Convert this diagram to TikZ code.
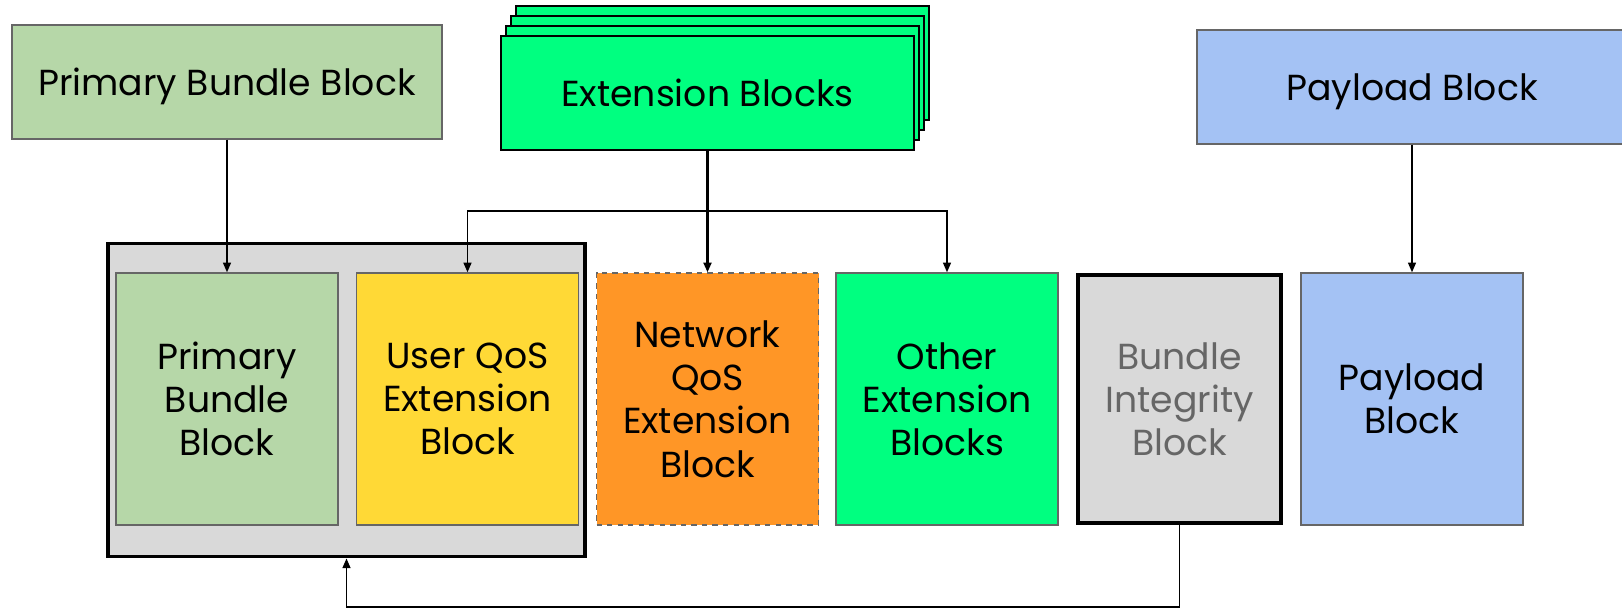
\documentclass[tikz,border=0pt]{standalone}
\usepackage{fontspec}
\setmainfont{Poppins}
\usetikzlibrary{arrows.meta,positioning}
\definecolor{primary}{HTML}{B6D7A8}
\definecolor{userqos}{HTML}{FFD936}
\definecolor{netqos}{HTML}{FF9626}
\definecolor{extgreen}{HTML}{00FF80}
\definecolor{integrity}{HTML}{D9D9D9}
\definecolor{payload}{HTML}{A4C2F4}
\definecolor{edge}{HTML}{666666}

\begin{document}
\begin{tikzpicture}[
  blk/.style={draw=edge, line width=0.8pt, minimum width=4.44cm, minimum height=5.04cm, align=center, font=\fontsize{20.6}{24.6}\selectfont},
  header/.style={draw=edge, line width=0.8pt, minimum width=8.6cm, minimum height=2.28cm, text height=15pt, text depth=0pt, font=\fontsize{20.6}{24.6}\selectfont},
  extstack/.style={draw=black, line width=1.1pt, fill=extgreen, minimum width=8.26cm, minimum height=2.28cm, text height=15pt, text depth=0pt, font=\fontsize{20.6}{24.6}\selectfont},
  link/.style={-{Triangle[length=5.5pt,width=4.5pt]}, line width=0.9pt},
]
  \useasboundingbox (0,0) rectangle (32.44,-12.18);

  \node[header, fill=primary] (pbtop) at (4.54,-1.64) {Primary Bundle Block};
  \foreach \i in {3,2,1}
    \node[extstack] (ext\i) at ({14.15+0.1*\i},{-1.86+0.2*\i}) {};
  \node[extstack] (ext) at (14.15,-1.86) {Extension Blocks};
  \node[header, fill=payload] (paytop) at (28.24,-1.74) {Payload Block};

  \node[draw, line width=2.2pt, fill=integrity, minimum width=9.54cm, minimum height=6.26cm] (bundle) at (6.93,-8.0) {};
  \node[blk, fill=primary] (pbin) at (4.54,-7.98) {Primary\\Bundle\\Block};
  \node[blk, fill=userqos] (uqos) at (9.35,-7.98) {User QoS\\Extension\\Block};
  \node[blk, fill=netqos, dashed] (nqos) at (14.15,-7.98) {Network\\QoS\\Extension\\Block};
  \node[blk, fill=extgreen] (other) at (18.94,-7.98) {Other\\Extension\\Blocks};
  \node[blk, draw=black, line width=2pt, fill=integrity, text=edge, minimum width=4.06cm, minimum height=4.96cm] (bib) at (23.59,-7.98) {Bundle\\Integrity\\Block};
  \node[blk, fill=payload] (pay) at (28.24,-7.98) {Payload\\Block};

  \coordinate (split) at (14.15,-4.22);
  \coordinate (loop) at (23.59,-12.14);

  \draw[link] (pbtop.south) -- (pbin.north);
  \draw[link, line width=1.2pt] (ext.south) -- (nqos.north);
  \draw[link] (split) -| (uqos.north);
  \draw[link] (split) -| (other.north);
  \draw[link] (paytop.south) -- (pay.north);
  \draw[link] (bib.south) -- (loop) -| (bundle.south);
\end{tikzpicture}
\end{document}
